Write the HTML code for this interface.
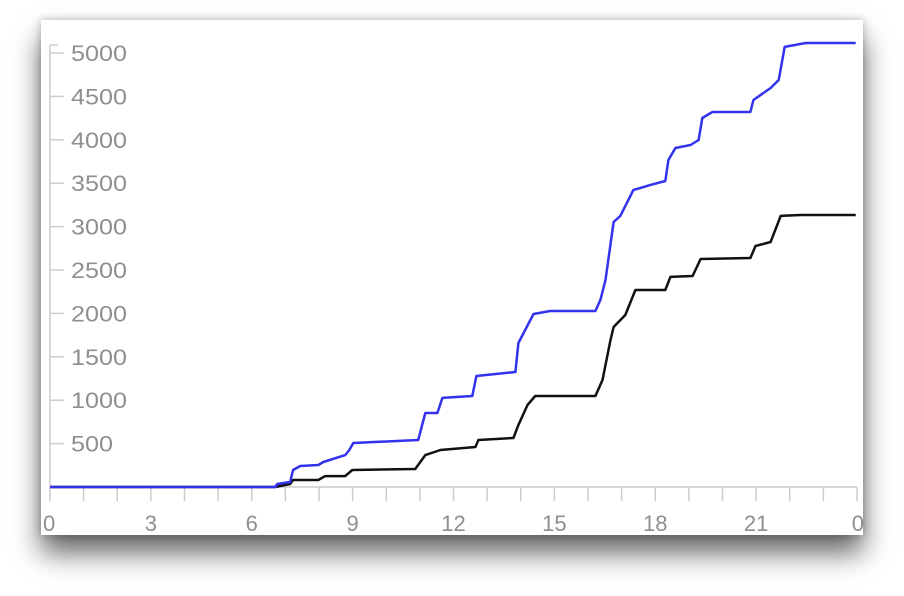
<!DOCTYPE html>
<html><head><meta charset="utf-8"><style>
html,body{margin:0;padding:0;background:#fff;width:904px;height:596px;overflow:hidden}
#panel{position:absolute;left:41px;top:20px;width:822px;height:515px;background:#fff;box-shadow:0 18px 26px rgba(0,0,0,0.6),0 0 8px rgba(0,0,0,0.25)}
svg{position:absolute;left:0;top:0}
text{font-family:"Liberation Sans",sans-serif;font-size:22px;fill:#8f8f8f}
</style></head><body>
<div id="panel"></div>
<svg id="chart" width="904" height="596"></svg>
<script>
const xTickLabels=["0","3","6","9","12","15","18","21","0"];
const yTicks=[500,1000,1500,2000,2500,3000,3500,4000,4500,5000];
const blueHours=[0,6.70,6.76,7.14,7.23,7.44,7.98,8.13,8.78,8.90,9.02,10.95,11.16,11.52,11.67,12.56,12.68,13.84,13.93,14.38,14.88,16.22,16.37,16.52,16.76,16.96,17.35,17.86,18.30,18.39,18.60,19.05,19.29,19.40,19.70,20.83,20.92,21.43,21.67,21.85,22.47,23.96];
const blueValues=[0,0,34,58,196,242,254,288,368,426,507,541,853,853,1026,1048,1279,1325,1659,1993,2028,2028,2155,2385,3053,3123,3422,3480,3525,3767,3905,3940,3998,4251,4320,4320,4459,4597,4689,5070,5115,5115];
const blackHours=[0,6.70,7.14,7.23,7.98,8.18,8.78,8.99,10.86,11.16,11.61,12.65,12.74,13.78,13.93,14.20,14.43,16.22,16.43,16.67,16.76,17.11,17.41,18.30,18.45,19.11,19.35,20.83,20.98,21.43,21.73,22.32,23.96];
const blackValues=[0,0,34,81,81,126,126,196,207,368,426,461,541,564,714,945,1048,1048,1233,1693,1843,1981,2270,2270,2420,2431,2627,2638,2777,2823,3123,3134,3134];

const svg=document.getElementById('chart');
const NS='http://www.w3.org/2000/svg';
const x0=50,xPer=(857-50)/24,y0=487,yPer=(487-53)/5000;
const X=h=>x0+h*xPer, Y=v=>y0-v*yPer;
function mk(tag,attrs){const e=document.createElementNS(NS,tag);for(const k in attrs)e.setAttribute(k,attrs[k]);svg.appendChild(e);return e;}

let e=mk('line',{x1:x0,y1:45,x2:x0,y2:y0,stroke:'#ccc','stroke-width':1.5});


e=mk('line',{x1:x0,y1:y0,x2:857,y2:y0,stroke:'#ccc','stroke-width':1.5});


e=mk('line',{x1:x0,y1:45,x2:x0+8,y2:45,stroke:'#ccc','stroke-width':1.5});



yTicks.forEach(v=>{
  const t=mk('line',{x1:x0,y1:Y(v),x2:x0+14,y2:Y(v),stroke:'#ccc','stroke-width':1.5});
  
  
  const l=mk('text',{x:71,y:Y(v)+8,textLength:56,lengthAdjust:'spacingAndGlyphs'});
  if(v<1000)l.setAttribute('textLength',42);
  l.textContent=v;
  
  
});
for(let h=0;h<=24;h++){
  const t=mk('line',{x1:X(h),y1:y0,x2:X(h),y2:y0+14,stroke:'#ccc','stroke-width':1.5});
  
  
}
xTickLabels.forEach((s,i)=>{
  let h=i*3;
  const l=mk('text',{x:X(h),y:531,'text-anchor':i===0?'start':(i===8?'end':'middle')});
  if(i===0)l.setAttribute('x',X(h)-7);
  if(i===8)l.setAttribute('x',X(h)+7);
  l.textContent=s;
  
  
});
function series(hs,vs,color,name){
  const d=hs.map((h,i)=>(i?'L':'M')+X(h).toFixed(1)+','+Y(vs[i]).toFixed(1)).join(' ');
  const p=mk('path',{d:d,fill:'none',stroke:color,'stroke-width':2.5,'stroke-linejoin':'round'});
  
  
}
series(blackHours,blackValues,'#111','black-series-line');
series(blueHours,blueValues,'#3333ee','blue-series-line');
</script>
</body></html>
